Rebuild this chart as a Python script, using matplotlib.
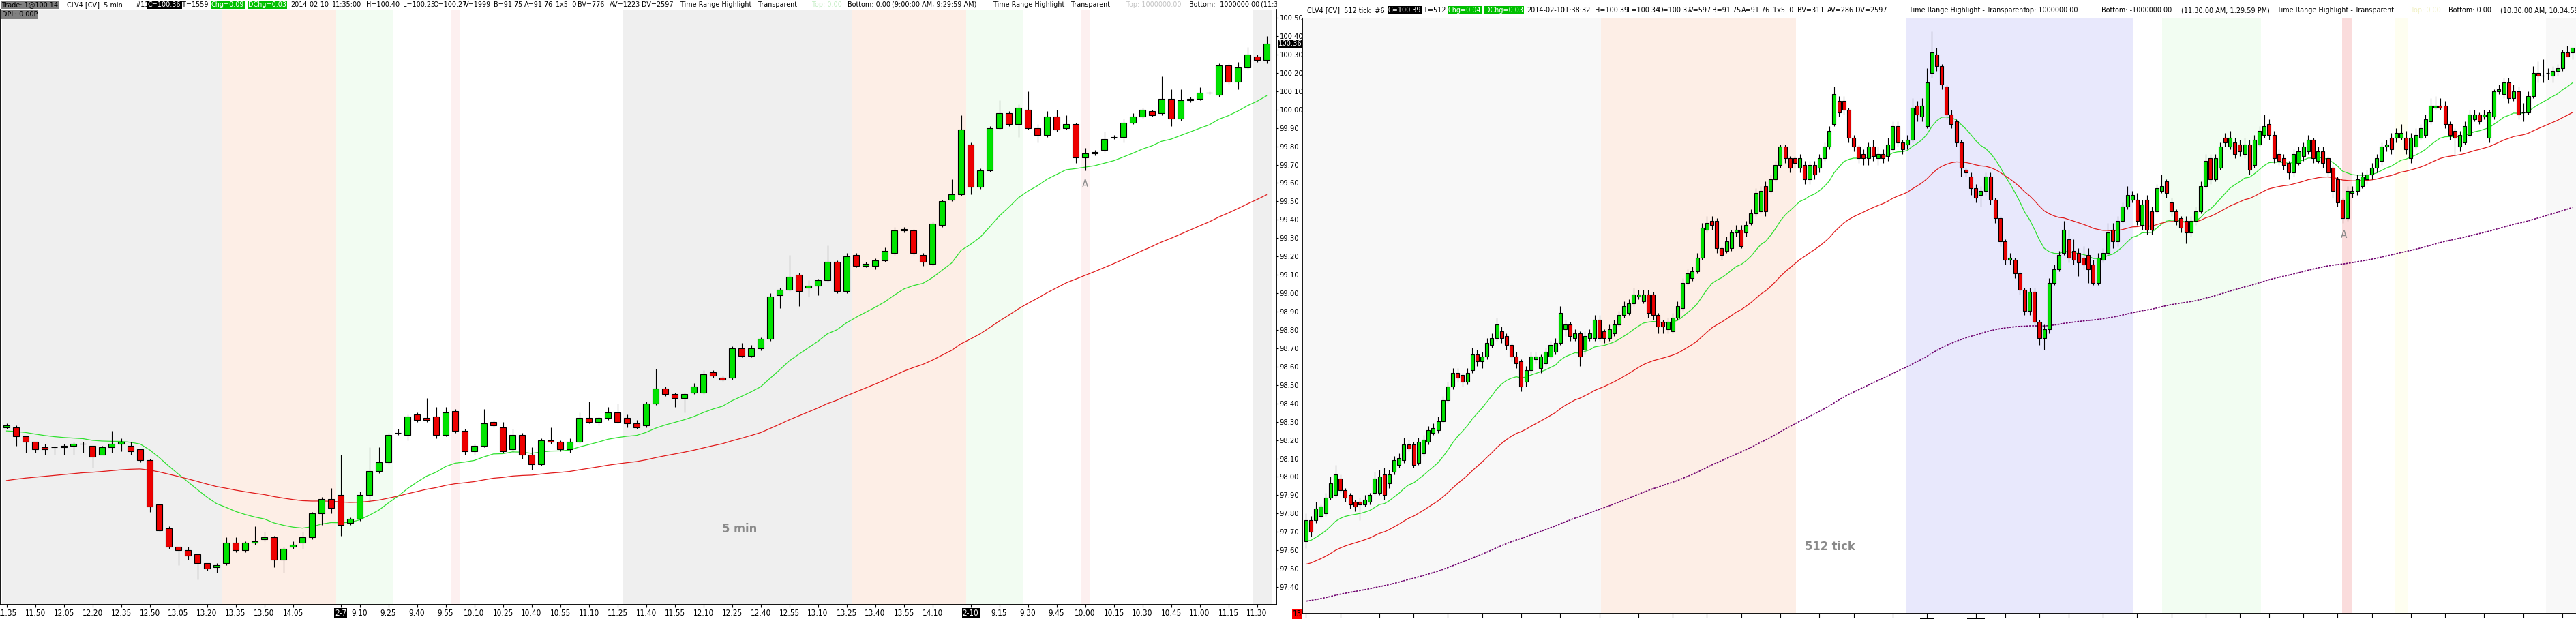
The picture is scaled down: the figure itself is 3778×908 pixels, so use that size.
import numpy as np
import matplotlib
matplotlib.use('Agg')
import matplotlib.pyplot as plt
from matplotlib import font_manager
from matplotlib.patches import Rectangle
from matplotlib.ticker import MultipleLocator, FormatStrFormatter

# ---------------------------------------------------------------- data
# Left chart: CLV4 5 min (sessions 9:00-14:30)
LEFT_SESSIONS = [('2-6', '11:35', '14:25'), ('2-7', '9:00', '14:25'), ('2-10', '9:00', '11:35')]

LEFT_OPEN = [98.27, 98.27, 98.22, 98.19, 98.16, 98.16, 98.16, 98.17, 98.18, 98.17,
             98.12, 98.16, 98.18, 98.17, 98.15, 98.09, 97.85, 97.72, 97.62, 97.60,
             97.58, 97.53, 97.51, 97.53, 97.64, 97.60, 97.64, 97.66, 97.67, 97.55,
             97.62, 97.64, 97.67, 97.80, 97.88, 97.90, 97.75, 97.77, 97.90, 98.03,
             98.08, 98.24, 98.23, 98.34, 98.32, 98.33, 98.23, 98.36, 98.25, 98.14,
             98.17, 98.30, 98.27, 98.15, 98.23, 98.12, 98.07, 98.20, 98.19, 98.15,
             98.19, 98.32, 98.30, 98.32, 98.35, 98.32, 98.29, 98.28, 98.40, 98.48,
             98.45, 98.43, 98.46, 98.46, 98.57, 98.54, 98.54, 98.70, 98.66, 98.70,
             98.75, 98.99, 99.02, 99.10, 99.03, 99.04, 99.07, 99.17, 99.01, 99.21,
             99.15, 99.15, 99.18, 99.22, 99.35, 99.34, 99.21, 99.16, 99.37, 99.51,
             99.54, 99.81, 99.58, 99.67, 99.90, 99.98, 99.92, 100.00, 99.90, 99.86,
             99.96, 99.90, 99.92, 99.74, 99.76, 99.78, 99.85, 99.85, 99.93, 99.96,
             99.99, 99.98, 100.06, 99.95, 100.05, 100.06, 100.09, 100.08, 100.24, 100.15,
             100.23, 100.29, 100.27]
LEFT_HIGH = [98.29, 98.28, 98.22, 98.19, 98.18, 98.17, 98.18, 98.19, 98.19, 98.17,
             98.17, 98.25, 98.21, 98.19, 98.15, 98.10, 97.85, 97.73, 97.62, 97.62,
             97.58, 97.53, 97.53, 97.67, 97.67, 97.65, 97.73, 97.70, 97.68, 97.62,
             97.65, 97.70, 97.81, 97.89, 97.94, 98.12, 97.78, 97.92, 98.16, 98.16,
             98.24, 98.26, 98.34, 98.35, 98.43, 98.38, 98.38, 98.37, 98.26, 98.18,
             98.37, 98.31, 98.30, 98.26, 98.24, 98.16, 98.21, 98.27, 98.20, 98.21,
             98.35, 98.41, 98.33, 98.38, 98.40, 98.34, 98.31, 98.41, 98.59, 98.49,
             98.46, 98.46, 98.51, 98.58, 98.58, 98.55, 98.71, 98.73, 98.72, 98.76,
             99.00, 99.03, 99.21, 99.11, 99.07, 99.08, 99.26, 99.18, 99.22, 99.22,
             99.17, 99.19, 99.25, 99.36, 99.36, 99.35, 99.22, 99.39, 99.51, 99.62,
             99.97, 99.82, 99.68, 99.91, 100.05, 99.99, 100.03, 100.10, 99.92, 99.99,
             100.00, 99.97, 99.93, 99.79, 99.78, 99.88, 99.86, 99.95, 99.98, 100.01,
             100.00, 100.18, 100.11, 100.11, 100.07, 100.12, 100.10, 100.25, 100.25, 100.26,
             100.34, 100.30, 100.40]
LEFT_LOW = [98.26, 98.17, 98.13, 98.13, 98.12, 98.12, 98.12, 98.12, 98.13, 98.05,
            98.12, 98.13, 98.14, 98.12, 98.08, 97.81, 97.70, 97.61, 97.52, 97.55,
            97.44, 97.49, 97.48, 97.52, 97.59, 97.59, 97.63, 97.65, 97.51, 97.48,
            97.61, 97.61, 97.66, 97.74, 97.80, 97.68, 97.74, 97.76, 97.86, 98.02,
            98.07, 98.23, 98.20, 98.30, 98.30, 98.21, 98.22, 98.24, 98.12, 98.12,
            98.16, 98.27, 98.13, 98.13, 98.10, 98.04, 98.06, 98.18, 98.14, 98.13,
            98.18, 98.29, 98.28, 98.31, 98.29, 98.27, 98.26, 98.27, 98.39, 98.44,
            98.38, 98.35, 98.45, 98.45, 98.54, 98.52, 98.53, 98.65, 98.65, 98.69,
            98.74, 98.92, 99.01, 98.93, 98.98, 98.99, 99.06, 99.00, 99.00, 99.14,
            99.14, 99.13, 99.17, 99.21, 99.33, 99.21, 99.15, 99.15, 99.36, 99.50,
            99.53, 99.54, 99.57, 99.66, 99.89, 99.91, 99.85, 99.89, 99.82, 99.85,
            99.88, 99.89, 99.71, 99.67, 99.75, 99.77, 99.84, 99.82, 99.92, 99.95,
            99.96, 99.97, 99.91, 99.94, 100.04, 100.05, 100.08, 100.07, 100.14, 100.11,
            100.22, 100.26, 100.25]
LEFT_CLOSE = [98.28, 98.22, 98.19, 98.15, 98.15, 98.16, 98.17, 98.18, 98.18, 98.11,
              98.16, 98.18, 98.19, 98.14, 98.09, 97.84, 97.71, 97.62, 97.60, 97.57,
              97.53, 97.50, 97.52, 97.64, 97.60, 97.64, 97.65, 97.67, 97.55, 97.61,
              97.63, 97.67, 97.80, 97.88, 97.83, 97.74, 97.77, 97.90, 98.03, 98.08,
              98.23, 98.24, 98.33, 98.31, 98.31, 98.23, 98.35, 98.25, 98.14, 98.17,
              98.29, 98.28, 98.14, 98.23, 98.12, 98.07, 98.20, 98.19, 98.15, 98.19,
              98.32, 98.30, 98.32, 98.35, 98.30, 98.29, 98.27, 98.40, 98.48, 98.45,
              98.43, 98.45, 98.49, 98.56, 98.55, 98.53, 98.70, 98.66, 98.70, 98.75,
              98.98, 99.02, 99.09, 99.01, 99.04, 99.07, 99.17, 99.01, 99.20, 99.15,
              99.16, 99.18, 99.23, 99.34, 99.34, 99.22, 99.17, 99.38, 99.50, 99.54,
              99.89, 99.58, 99.67, 99.90, 99.98, 99.92, 100.01, 99.90, 99.86, 99.96,
              99.89, 99.92, 99.74, 99.76, 99.77, 99.84, 99.85, 99.93, 99.96, 100.00,
              99.97, 100.06, 99.95, 100.05, 100.06, 100.09, 100.09, 100.24, 100.15, 100.23,
              100.30, 100.27, 100.36]

LEFT_TICK_LABELS = ['11:35', '11:50', '12:05', '12:20', '12:35', '12:50', '13:05', '13:20',
                    '13:35', '13:50', '14:05', '2-7', '9:10', '9:25', '9:40', '9:55', '10:10',
                    '10:25', '10:40', '10:55', '11:10', '11:25', '11:40', '11:55', '12:10',
                    '12:25', '12:40', '12:55', '13:10', '13:25', '13:40', '13:55', '14:10',
                    '2-10', '9:15', '9:30', '9:45', '10:00', '10:15', '10:30', '10:45',
                    '11:00', '11:15', '11:30']
LEFT_HIGHLIGHTS = [('11:30', '13:30', '#efefef'), ('13:30', '14:30', '#fdeee6'),
                   ('9:00', '9:30', '#f2fcf2'), ('10:00', '10:05', '#fdf0f0')]
LEFT_EMA_FAST_SEED, LEFT_EMA_SLOW_SEED = 98.25, 97.98

# Right chart: CLV4 512 tick
RIGHT_OPEN = [98.25, 98.34, 98.34, 98.36, 98.37, 98.44, 98.45, 98.52, 98.47, 98.45,
              98.42, 98.42, 98.41, 98.42, 98.46, 98.46, 98.54, 98.50, 98.55, 98.58,
              98.60, 98.67, 98.67, 98.59, 98.63, 98.68, 98.72, 98.73, 98.77, 98.86,
              98.92, 98.98, 98.97, 98.94, 98.99, 99.06, 99.03, 99.05, 99.10, 99.13,
              99.16, 99.14, 99.10, 99.05, 99.03, 98.94, 98.99, 99.04, 99.00, 99.02,
              99.05, 99.07, 99.11, 99.17, 99.19, 99.13, 99.15, 99.08, 99.13, 99.13,
              99.21, 99.16, 99.13, 99.15, 99.19, 99.23, 99.24, 99.28, 99.31, 99.29,
              99.32, 99.32, 99.23, 99.20, 99.17, 99.16, 99.22, 99.26, 99.37, 99.39,
              99.42, 99.48, 99.60, 99.64, 99.64, 99.52, 99.51, 99.52, 99.59, 99.60,
              99.59, 99.63, 99.67, 99.68, 99.79, 99.77, 99.82, 99.88, 99.96, 99.91,
              99.91, 99.87, 99.88, 99.82, 99.88, 99.87, 99.91, 99.96, 100.06, 100.16,
              100.16, 100.12, 100.00, 99.96, 99.93, 99.91, 99.96, 99.91, 99.93, 99.92,
              99.95, 100.05, 99.98, 99.97, 99.99, 100.14, 100.09, 100.05, 100.28, 100.36,
              100.31, 100.22, 100.10, 100.07, 99.98, 99.86, 99.83, 99.78, 99.75, 99.77,
              99.83, 99.73, 99.65, 99.55, 99.47, 99.47, 99.41, 99.34, 99.25, 99.33,
              99.20, 99.13, 99.17, 99.37, 99.43, 99.50, 99.56, 99.51, 99.50, 99.48,
              99.49, 99.45, 99.37, 99.47, 99.50, 99.60, 99.55, 99.64, 99.70, 99.73,
              99.73, 99.62, 99.73, 99.68, 99.68, 99.77, 99.81, 99.72, 99.68, 99.65,
              99.64, 99.59, 99.64, 99.68, 99.79, 99.91, 99.82, 99.87, 100.00, 99.96,
              99.98, 99.97, 99.93, 99.97, 99.88, 99.97, 100.01, 100.06, 100.01, 99.93,
              99.91, 99.89, 99.85, 99.89, 99.92, 99.94, 99.99, 99.90, 99.94, 99.91,
              99.87, 99.82, 99.73, 99.65, 99.76, 99.77, 99.79, 99.82, 99.84, 99.87,
              99.90, 99.96, 100.00, 100.00, 100.00, 100.00, 99.91, 99.96, 100.00, 100.01,
              100.07, 100.13, 100.14, 100.14, 100.06, 100.03, 99.96, 99.98, 100.01, 100.08,
              100.10, 100.09, 100.00, 100.09, 100.20, 100.19, 100.24, 100.17, 100.20, 100.11,
              100.11, 100.18, 100.28, 100.27, 100.28, 100.27, 100.29, 100.30, 100.37, 100.37]
RIGHT_HIGH = [98.37, 98.36, 98.42, 98.41, 98.46, 98.53, 98.58, 98.54, 98.48, 98.46,
              98.43, 98.44, 98.45, 98.46, 98.55, 98.56, 98.57, 98.56, 98.62, 98.63,
              98.70, 98.69, 98.68, 98.70, 98.71, 98.75, 98.76, 98.79, 98.88, 98.94,
              99.00, 99.00, 98.98, 99.00, 99.09, 99.08, 99.07, 99.13, 99.15, 99.22,
              99.18, 99.15, 99.11, 99.07, 99.04, 99.01, 99.07, 99.07, 99.06, 99.09,
              99.12, 99.13, 99.27, 99.21, 99.20, 99.17, 99.16, 99.16, 99.17, 99.23,
              99.23, 99.17, 99.19, 99.21, 99.25, 99.29, 99.30, 99.35, 99.34, 99.34,
              99.34, 99.33, 99.24, 99.21, 99.22, 99.24, 99.29, 99.39, 99.43, 99.44,
              99.50, 99.63, 99.66, 99.66, 99.65, 99.53, 99.57, 99.60, 99.62, 99.62,
              99.64, 99.69, 99.78, 99.79, 99.81, 99.84, 99.90, 99.97, 99.97, 99.92,
              99.92, 99.93, 99.90, 99.90, 99.90, 99.93, 99.98, 100.05, 100.22, 100.18,
              100.18, 100.13, 100.01, 99.97, 99.95, 99.98, 99.99, 99.96, 99.95, 100.00,
              100.07, 100.07, 99.99, 100.01, 100.17, 100.16, 100.17, 100.30, 100.46, 100.39,
              100.32, 100.23, 100.12, 100.08, 99.99, 99.87, 99.85, 99.80, 99.79, 99.85,
              99.85, 99.74, 99.66, 99.56, 99.50, 99.48, 99.42, 99.35, 99.35, 99.35,
              99.21, 99.19, 99.39, 99.45, 99.51, 99.64, 99.60, 99.56, 99.52, 99.53,
              99.52, 99.47, 99.50, 99.52, 99.63, 99.63, 99.66, 99.72, 99.79, 99.77,
              99.76, 99.73, 99.75, 99.70, 99.80, 99.84, 99.82, 99.74, 99.69, 99.66,
              99.66, 99.66, 99.70, 99.81, 99.93, 99.93, 99.93, 99.98, 100.02, 100.03,
              100.00, 99.99, 100.00, 99.99, 100.01, 100.05, 100.10, 100.08, 100.03, 99.95,
              99.93, 99.90, 99.95, 99.96, 99.98, 100.01, 100.00, 99.96, 99.96, 99.92,
              99.88, 99.83, 99.74, 99.79, 99.79, 99.84, 99.85, 99.86, 99.89, 99.93,
              99.98, 99.99, 100.02, 100.04, 100.06, 100.03, 100.02, 100.04, 100.06, 100.10,
              100.17, 100.18, 100.17, 100.16, 100.07, 100.04, 100.03, 100.07, 100.12, 100.12,
              100.11, 100.12, 100.12, 100.21, 100.23, 100.26, 100.26, 100.23, 100.22, 100.15,
              100.20, 100.31, 100.33, 100.34, 100.30, 100.31, 100.32, 100.38, 100.40, 100.39]
RIGHT_LOW = [98.22, 98.27, 98.33, 98.35, 98.36, 98.43, 98.44, 98.46, 98.42, 98.39,
             98.38, 98.34, 98.40, 98.41, 98.45, 98.45, 98.43, 98.48, 98.54, 98.57,
             98.59, 98.64, 98.57, 98.58, 98.62, 98.67, 98.71, 98.72, 98.76, 98.85,
             98.91, 98.94, 98.92, 98.93, 98.98, 99.01, 99.00, 99.04, 99.09, 99.12,
             99.11, 99.08, 99.03, 99.00, 98.90, 98.92, 98.97, 99.02, 98.98, 99.01,
             99.04, 99.06, 99.10, 99.14, 99.12, 99.12, 99.01, 99.06, 99.12, 99.12,
             99.12, 99.11, 99.12, 99.14, 99.18, 99.22, 99.23, 99.27, 99.30, 99.28,
             99.22, 99.21, 99.15, 99.15, 99.15, 99.15, 99.21, 99.25, 99.36, 99.38,
             99.41, 99.47, 99.59, 99.60, 99.50, 99.47, 99.50, 99.51, 99.57, 99.52,
             99.57, 99.62, 99.66, 99.67, 99.66, 99.76, 99.81, 99.87, 99.89, 99.85,
             99.87, 99.85, 99.80, 99.80, 99.82, 99.85, 99.90, 99.95, 100.05, 100.09,
             100.10, 99.98, 99.94, 99.89, 99.88, 99.88, 99.90, 99.88, 99.89, 99.90,
             99.94, 99.96, 99.93, 99.95, 99.98, 100.07, 100.07, 100.04, 100.26, 100.29,
             100.21, 100.08, 100.04, 99.96, 99.83, 99.83, 99.75, 99.72, 99.70, 99.75,
             99.71, 99.63, 99.53, 99.45, 99.45, 99.39, 99.32, 99.23, 99.23, 99.18,
             99.10, 99.08, 99.15, 99.36, 99.42, 99.49, 99.46, 99.45, 99.40, 99.43,
             99.37, 99.36, 99.36, 99.46, 99.49, 99.52, 99.53, 99.63, 99.69, 99.72,
             99.62, 99.60, 99.58, 99.58, 99.67, 99.76, 99.74, 99.66, 99.62, 99.59,
             99.54, 99.57, 99.62, 99.67, 99.78, 99.80, 99.81, 99.86, 99.96, 99.95,
             99.91, 99.92, 99.91, 99.84, 99.87, 99.96, 100.00, 99.99, 99.89, 99.88,
             99.86, 99.82, 99.83, 99.88, 99.90, 99.93, 99.89, 99.89, 99.87, 99.83,
             99.74, 99.70, 99.63, 99.64, 99.74, 99.75, 99.78, 99.80, 99.82, 99.85,
             99.88, 99.94, 99.93, 99.98, 99.99, 99.93, 99.89, 99.95, 99.99, 100.00,
             100.06, 100.12, 100.12, 100.04, 99.99, 99.92, 99.94, 99.97, 100.00, 100.07,
             100.06, 100.08, 99.98, 100.08, 100.19, 100.17, 100.15, 100.16, 100.08, 100.07,
             100.10, 100.17, 100.24, 100.24, 100.25, 100.24, 100.27, 100.29, 100.35, 100.34]
RIGHT_CLOSE = [98.34, 98.29, 98.39, 98.40, 98.44, 98.50, 98.54, 98.47, 98.44, 98.41,
               98.40, 98.41, 98.43, 98.45, 98.52, 98.53, 98.45, 98.54, 98.60, 98.61,
               98.67, 98.65, 98.58, 98.68, 98.69, 98.73, 98.74, 98.77, 98.86, 98.92,
               98.98, 98.96, 98.94, 98.98, 99.06, 99.03, 99.05, 99.11, 99.13, 99.19,
               99.13, 99.10, 99.05, 99.02, 98.92, 98.99, 99.05, 99.05, 99.05, 99.07,
               99.10, 99.11, 99.24, 99.19, 99.14, 99.15, 99.05, 99.14, 99.15, 99.21,
               99.13, 99.13, 99.17, 99.19, 99.23, 99.27, 99.28, 99.32, 99.32, 99.32,
               99.24, 99.23, 99.18, 99.18, 99.20, 99.22, 99.27, 99.37, 99.41, 99.42,
               99.48, 99.61, 99.63, 99.62, 99.52, 99.49, 99.55, 99.59, 99.60, 99.53,
               99.62, 99.67, 99.76, 99.77, 99.68, 99.82, 99.88, 99.96, 99.91, 99.87,
               99.89, 99.91, 99.82, 99.88, 99.84, 99.91, 99.96, 100.03, 100.19, 100.11,
               100.12, 100.00, 99.96, 99.91, 99.91, 99.96, 99.92, 99.93, 99.91, 99.97,
               100.05, 99.98, 99.95, 99.99, 100.13, 100.10, 100.14, 100.24, 100.37, 100.31,
               100.23, 100.10, 100.06, 99.98, 99.87, 99.85, 99.78, 99.74, 99.77, 99.83,
               99.73, 99.65, 99.55, 99.47, 99.48, 99.41, 99.34, 99.25, 99.33, 99.20,
               99.13, 99.17, 99.37, 99.43, 99.49, 99.60, 99.48, 99.47, 99.46, 99.45,
               99.43, 99.37, 99.48, 99.50, 99.59, 99.55, 99.64, 99.70, 99.75, 99.75,
               99.64, 99.71, 99.60, 99.60, 99.78, 99.79, 99.76, 99.68, 99.64, 99.61,
               99.59, 99.64, 99.68, 99.79, 99.90, 99.82, 99.91, 99.96, 99.98, 100.00,
               99.93, 99.94, 99.97, 99.86, 99.99, 100.03, 100.05, 100.01, 99.91, 99.90,
               99.88, 99.85, 99.93, 99.94, 99.96, 99.99, 99.91, 99.94, 99.89, 99.85,
               99.77, 99.72, 99.65, 99.77, 99.77, 99.82, 99.83, 99.84, 99.87, 99.91,
               99.96, 99.97, 99.95, 100.02, 100.02, 99.95, 100.00, 100.01, 100.04, 100.08,
               100.14, 100.14, 100.13, 100.06, 100.01, 100.00, 100.01, 100.05, 100.10, 100.10,
               100.07, 100.10, 100.11, 100.20, 100.21, 100.24, 100.17, 100.20, 100.10, 100.11,
               100.18, 100.28, 100.27, 100.27, 100.28, 100.29, 100.30, 100.37, 100.35, 100.39]
# highlighted bar ranges (bar index) of the tick chart
RIGHT_HIGHLIGHTS = [(-1.0, 60.3, '#f8f8f8'), (60.3, 100.2, '#fdeee6'), (122.8, 169.2, '#e8e8fc'),
                    (175.1, 195.3, '#f2fdf2'), (211.9, 213.9, '#fadcdc'), (222.7, 225.4, '#fefef0'),
                    (253.6, 262.0, '#f8f8f8')]
RIGHT_TICK_BARS = [0, 7, 15, 22, 29, 36, 44, 52, 60, 68, 75, 82, 89, 97, 105, 112, 120, 127,
                   137, 143, 150, 156, 163, 170, 177, 184, 191, 197, 204, 211, 218, 226, 233,
                   241, 249, 257]
RIGHT_TICK_LABELS = [''] * 17 + ['2-9', '2-10'] + [''] * 17
RIGHT_EMA_SEEDS = (98.25, 98.15, 97.99)

# header texts: (x pixel, text, text colour, box colour)
LEFT_HEADER = [(3, 'Trade: 1@100.14', 'black', '#808080'), (98, 'CLV4 [CV]  5 min', 'black', None),
               (198, '#11', 'black', None), (217, 'C=100.36', 'white', 'black'),
               (267, 'T=1559', 'black', None), (310, 'Chg=0.09', 'white', '#00c000'),
               (364, 'DChg=0.03', 'white', '#00c000'), (426, '2014-02-10', 'black', None),
               (487, '11:35:00', 'black', None), (537, 'H=100.40', 'black', None),
               (591, 'L=100.25', 'black', None), (636, 'O=100.27', 'black', None),
               (681, 'V=1999', 'black', None), (724, 'B=91.75', 'black', None),
               (769, 'A=91.76', 'black', None), (815, '1x5  0', 'black', None),
               (847, 'BV=776', 'black', None), (894, 'AV=1223', 'black', None),
               (941, 'DV=2597', 'black', None), (998, 'Time Range Highlight - Transparent', 'black', None),
               (1191, 'Top: 0.00', '#c6eec6', None), (1243, 'Bottom: 0.00', 'black', None),
               (1308, '(9:00:00 AM, 9:29:59 AM)', 'black', None),
               (1457, 'Time Range Highlight - Transparent', 'black', None),
               (1652, 'Top: 1000000.00', '#c4c4c4', None), (1744, 'Bottom: -1000000.00', 'black', None),
               (1849, '(11:30:00 AM, 1:29:59 PM)', 'black', None)]
RIGHT_HEADER = [(1917, 'CLV4 [CV]  512 tick  #6', 'black', None), (2036, 'C=100.39', 'white', 'black'),
                (2088, 'T=512', 'black', None), (2124, 'Chg=0.04', 'white', '#00c000'),
                (2178, 'DChg=0.03', 'white', '#00c000'), (2239, '2014-02-10', 'black', None),
                (2290, '11:38:32', 'black', None), (2339, 'H=100.39', 'black', None),
                (2387, 'L=100.34', 'black', None), (2431, 'O=100.37', 'black', None),
                (2477, 'V=597', 'black', None), (2511, 'B=91.75', 'black', None),
                (2554, 'A=91.76', 'black', None), (2600, '1x5  0', 'black', None),
                (2636, 'BV=311', 'black', None), (2680, 'AV=286', 'black', None),
                (2721, 'DV=2597', 'black', None), (2800, 'Time Range Highlight - Transparent', 'black', None),
                (2967, 'Top: 1000000.00', 'black', None), (3082, 'Bottom: -1000000.00', 'black', None),
                (3199, '(11:30:00 AM, 1:29:59 PM)', 'black', None),
                (3340, 'Time Range Highlight - Transparent', 'black', None),
                (3536, 'Top: 0.00', '#f0f0c0', None), (3591, 'Bottom: 0.00', 'black', None),
                (3667, '(10:30:00 AM, 10:34:59 AM)', 'black', None)]

# ---------------------------------------------------------------- fonts
W, H, DPI = 3778, 908, 100
_fonts = font_manager.fontManager.ttflist
_names = {f.name for f in _fonts}
if 'Liberation Sans Narrow' in _names:
    FAM, FS, STRETCH = 'Liberation Sans Narrow', 1.0, 'normal'
elif any(f.name == 'DejaVu Sans' and f.stretch == 'condensed' for f in _fonts):
    FAM, FS, STRETCH = 'DejaVu Sans', 0.84, 'condensed'
else:
    FAM, FS, STRETCH = 'Liberation Sans', 0.82, 'normal'
plt.rcParams['font.family'] = [FAM, 'DejaVu Sans']
plt.rcParams['font.stretch'] = STRETCH

HS = 9.2 * FS    # header
PS = 9.5 * FS    # price labels
TS = 10.0 * FS   # time labels
GREEN, RED = '#00e400', '#ee0000'


def px_rect(x0, y0, x1, y1):
    return [x0 / W, 1 - y1 / H, (x1 - x0) / W, (y1 - y0) / H]


def ema(values, period, seed):
    a = 2.0 / (period + 1)
    out = [seed]
    for v in values[1:]:
        out.append(out[-1] + a * (v - out[-1]))
    return np.array(out)


def candles(ax, o, h, l, c, width):
    o, h, l, c = map(np.asarray, (o, h, l, c))
    x = np.arange(len(o))
    ax.vlines(x, l, h, colors='black', linewidth=0.8, zorder=3)
    cols = np.where(c > o, GREEN, np.where(c < o, RED, 'black'))
    ax.bar(x, np.abs(c - o), width, bottom=np.minimum(o, c), color=cols,
           edgecolor='black', linewidth=0.8, zorder=4)


fig = plt.figure(figsize=(W / DPI, H / DPI), dpi=DPI)
fig.patch.set_facecolor('white')

# ---------------------------------------------------------------- left chart
axL = fig.add_axes(px_rect(0.5, 14, 1872, 887))
n_left = len(LEFT_CLOSE)
axL.set_xlim(-0.646, -0.646 + 1871.5 / 14.0)
axL.set_ylim(97.304, 100.5445)


def to_min(s):
    hh, mm = s.split(':')
    return int(hh) * 60 + int(mm)


bar_day, bar_min = [], []
for day, t0, t1 in LEFT_SESSIONS:
    for m in range(to_min(t0), to_min(t1) + 1, 5):
        bar_day.append(day)
        bar_min.append(m)
bar_min = np.array(bar_min)

for t0, t1, col in LEFT_HIGHLIGHTS:
    inside = (bar_min >= to_min(t0)) & (bar_min < to_min(t1))
    i = 0
    while i < n_left:
        if inside[i]:
            j = i
            while j + 1 < n_left and inside[j + 1]:
                j += 1
            axL.axvspan(i - 0.5, j + 0.5, color=col, lw=0, zorder=0)
            i = j + 1
        else:
            i += 1

candles(axL, LEFT_OPEN, LEFT_HIGH, LEFT_LOW, LEFT_CLOSE, 0.68)
xl = np.arange(n_left)
axL.plot(xl, ema(LEFT_CLOSE, 20, LEFT_EMA_FAST_SEED), color='#2ee02e', lw=0.9, zorder=2)
axL.plot(xl, ema(LEFT_CLOSE, 65, LEFT_EMA_SLOW_SEED), color='#e01a1a', lw=0.9, zorder=2)

# x ticks of the 5 min chart
tick_pos, ptr = [], 0
for lab in LEFT_TICK_LABELS:
    for k in range(ptr, n_left):
        hit = (bar_day[k] == lab) if '-' in lab else \
            ('%d:%02d' % divmod(bar_min[k], 60) == lab)
        if hit:
            tick_pos.append(k)
            ptr = k
            break
axL.set_xticks(tick_pos)
axL.set_xticklabels(LEFT_TICK_LABELS, fontsize=TS)
for t in axL.get_xticklabels():
    if '-' in t.get_text():
        t.set_color('white')
        t.set_bbox(dict(boxstyle='square,pad=0.1', fc='black', ec='none'))
axL.tick_params(axis='x', length=3, width=0.8, pad=1.5, direction='out')

axL.yaxis.tick_right()
axL.yaxis.set_major_locator(MultipleLocator(0.10))
axL.yaxis.set_major_formatter(FormatStrFormatter('%.2f'))
axL.tick_params(axis='y', length=2.5, width=0.8, pad=1.0, labelsize=PS)
axL.spines['top'].set_visible(False)
for s in ('left', 'bottom', 'right'):
    axL.spines[s].set_linewidth(1.3)

axL.text(1.0 + 2.5 / 1871.5, LEFT_CLOSE[-1], '%.2f' % LEFT_CLOSE[-1], transform=axL.get_yaxis_transform(),
         ha='left', va='center', fontsize=PS, color='white', zorder=10, clip_on=False,
         bbox=dict(boxstyle='square,pad=0.08', fc='black', ec='none'))
axL.text(76.8, 97.716, '5 min', fontsize=15.5 * FS, fontweight='bold', color='#8a8a8a',
         ha='center', va='center', zorder=5)
axL.text(113, 99.594, 'A', fontsize=13 * FS, color='#8a8a8a', ha='center', va='center', zorder=5)

# ---------------------------------------------------------------- right chart
axR = fig.add_axes(px_rect(1910, 27, 3778, 900))
n_right = len(RIGHT_CLOSE)
axR.set_xlim(-0.767, -0.767 + 1868 / 7.17)
axR.set_ylim(97.936, 100.517)
for a, b, col in RIGHT_HIGHLIGHTS:
    axR.axvspan(a, b, color=col, lw=0, zorder=0)
candles(axR, RIGHT_OPEN, RIGHT_HIGH, RIGHT_LOW, RIGHT_CLOSE, 0.7)
xr = np.arange(n_right)
axR.plot(xr, ema(RIGHT_CLOSE, 20, RIGHT_EMA_SEEDS[0]), color='#2ee02e', lw=0.9, zorder=2)
axR.plot(xr, ema(RIGHT_CLOSE, 50, RIGHT_EMA_SEEDS[1]), color='#e01a1a', lw=0.9, zorder=2)
axR.plot(xr, ema(RIGHT_CLOSE, 200, RIGHT_EMA_SEEDS[2]), color='#6e006e', lw=1.2,
         linestyle=(0, (1.6, 0.9)), zorder=2)
axR.set_yticks([])
axR.set_xticks(RIGHT_TICK_BARS)
axR.set_xticklabels(RIGHT_TICK_LABELS, fontsize=TS)
for t in axR.get_xticklabels():
    if t.get_text():
        t.set_color('white')
        t.set_bbox(dict(boxstyle='square,pad=0.1', fc='black', ec='none'))
axR.tick_params(axis='x', length=4, width=0.8, pad=1.0, direction='out')
for s in ('top', 'right'):
    axR.spines[s].set_visible(False)
for s in ('left', 'bottom'):
    axR.spines[s].set_linewidth(1.3)
axR.text(107.2, 98.226, '512 tick', fontsize=15.5 * FS, fontweight='bold', color='#8a8a8a',
         ha='center', va='center', zorder=5)
axR.text(212.3, 99.577, 'A', fontsize=13 * FS, color='#8a8a8a', ha='center', va='center', zorder=5)


# ---------------------------------------------------------------- headers
def header_ax(x0, y0, x1, y1):
    ax = fig.add_axes(px_rect(x0, y0, x1, y1))
    ax.set_xlim(x0, x1)
    ax.set_ylim(y1, y0)
    ax.axis('off')
    return ax


def draw_header(ax, items, y):
    for x, s, col, bg in items:
        kw = {}
        if bg:
            kw['bbox'] = dict(boxstyle='square,pad=0.1', fc=bg, ec='none')
        ax.text(x, y, s, color=col, fontsize=HS, ha='left', va='center', clip_on=True, **kw)


draw_header(header_ax(0, 0, 1873, 14), LEFT_HEADER, 6.8)
draw_header(header_ax(1910, 0, 3778, 27), RIGHT_HEADER, 15.0)

# DPL box
fig.text(3 / W, 1 - 21.5 / H, 'DPL: 0.00P', fontsize=HS, ha='left', va='center',
         bbox=dict(boxstyle='square,pad=0.1', fc='#808080', ec='none'))
# small red time box at the bottom between the charts
fig.patches.append(Rectangle((1895 / W, 0), 15 / W, 15 / H, transform=fig.transFigure,
                             fc='#ff0000', ec='none', zorder=5))
fig.text(1896 / W, 1 - 901 / H, '13', fontsize=TS, ha='left', va='center', zorder=6)

fig.savefig('out.png', dpi=DPI)
